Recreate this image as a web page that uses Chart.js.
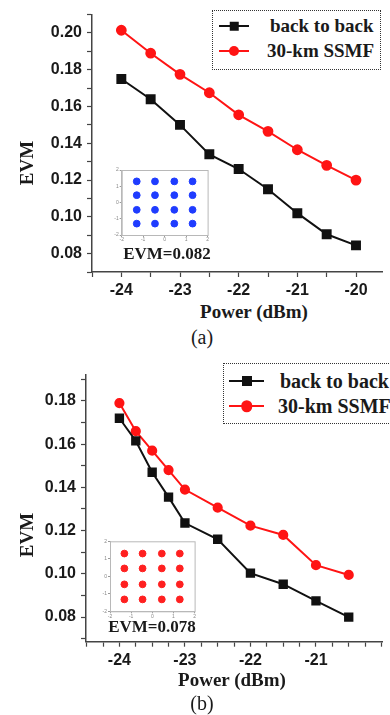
<!DOCTYPE html>
<html lang="en">
<head>
  <meta charset="UTF-8">
  <title>EVM vs Power</title>
  <script src="https://cdn.jsdelivr.net/npm/chart.js"></script>
  <style>
    * { box-sizing: border-box; }
    body {
      margin: 0;
      width: 390px;
      height: 715px;
      overflow: hidden;
      background: #fff;
      position: relative;
      font-family: 'Liberation Serif', 'Times New Roman', serif;
    }
    canvas { position: absolute; }
    .txt {
      position: absolute;
      white-space: nowrap;
      transform: translate(-50%, -50%);
      color: #1a1a1a;
    }
    .bold { font-weight: bold; font-size: 19px; }
    .evm { transform: translate(-50%, -50%) rotate(-90deg); }
    .panel { font-size: 20px; }
    .inset-lbl { font-weight: bold; font-size: 17px; }
    .legend {
      position: absolute;
      border: 1px dotted #333;
      background: #fff;
    }
    .legend .row {
      position: absolute;
      left: 0;
      height: 0;
    }
    .legend .line {
      position: absolute;
      height: 2px;
      top: -1px;
    }
    .legend .mk {
      position: absolute;
      transform: translate(-50%, -50%);
    }
    .legend .lab {
      position: absolute;
      transform: translateY(-50%);
      font-weight: bold;
      font-size: 19px;
      white-space: nowrap;
      color: #1a1a1a;
    }
    #legB .lab { font-size: 20px; }
  </style>
</head>
<body>
  <canvas id="chartA" width="390" height="300" style="left:0;top:0"></canvas>
  <canvas id="insetA" width="102" height="80" style="left:110px;top:165px;background:#fff"></canvas>
  <canvas id="chartB" width="390" height="310" style="left:0;top:360px"></canvas>
  <canvas id="insetB" width="101" height="84" style="left:98px;top:536px;background:#fff"></canvas>

  <div class="txt bold evm" style="left:27px;top:163px">EVM</div>
  <div class="txt bold" style="left:254px;top:312px">Power (dBm)</div>
  <div class="txt panel" style="left:202px;top:337px">(a)</div>
  <div class="txt inset-lbl" style="left:167px;top:254px">EVM=0.082</div>

  <div class="txt bold evm" style="left:27px;top:535px">EVM</div>
  <div class="txt bold" style="left:232px;top:680px">Power (dBm)</div>
  <div class="txt panel" style="left:202px;top:703px">(b)</div>
  <div class="txt inset-lbl" style="left:152px;top:627px">EVM=0.078</div>

  <div class="legend" id="legA" style="left:212px;top:10px;width:169px;height:60px"></div>
  <div class="legend" id="legB" style="left:223px;top:363px;width:180px;height:61px"></div>

<script>
// ---- data ----
const seriesNames = ['back to back', '30-km SSMF'];

// (a)
const powerA = [-24, -23.5, -23, -22.5, -22, -21.5, -21, -20.5, -20];
const b2bA   = [0.175, 0.164, 0.150, 0.134, 0.126, 0.115, 0.102, 0.0905, 0.0845];
const ssmfA  = [0.2015, 0.189, 0.1775, 0.1675, 0.1555, 0.1465, 0.1365, 0.128, 0.120];

// (b)
const powerB = [-24, -23.75, -23.5, -23.25, -23, -22.5, -22, -21.5, -21, -20.5];
const b2bB   = [0.172, 0.1615, 0.147, 0.1355, 0.1235, 0.116, 0.1003, 0.0952, 0.0875, 0.080];
const ssmfB  = [0.179, 0.166, 0.157, 0.148, 0.139, 0.1306, 0.1223, 0.118, 0.104, 0.0995];

// constellation insets (16-QAM levels, I and Q)
const levelsA = [-1.3, -0.45, 0.45, 1.3];
const levelsB = [-1.32, -0.46, 0.45, 1.3];
const insetTicks = [-2, -1, 0, 1, 2];

const BLACK = '#111111';
const RED = '#ff1414';
const AXIS = '#444444';

function pts(xs, ys) {
  return xs.map((x, i) => ({ x: x, y: ys[i] }));
}

function mainChart(id, xs, s1, s2, cfg) {
  const ctx = document.getElementById(id).getContext('2d');
  return new Chart(ctx, {
    type: 'line',
    data: {
      datasets: [
        {
          label: seriesNames[0],
          data: pts(xs, s1),
          borderColor: BLACK,
          backgroundColor: BLACK,
          borderWidth: 2,
          pointStyle: 'rect',
          pointRadius: cfg.rect,
          pointHoverRadius: cfg.rect,
          tension: 0
        },
        {
          label: seriesNames[1],
          data: pts(xs, s2),
          borderColor: RED,
          backgroundColor: RED,
          borderWidth: 2,
          pointStyle: 'circle',
          pointRadius: cfg.circ,
          pointHoverRadius: cfg.circ,
          tension: 0
        }
      ]
    },
    options: {
      responsive: false,
      animation: false,
      layout: { padding: { top: cfg.top, right: 0, bottom: 0, left: 0 } },
      plugins: { legend: { display: false }, tooltip: { enabled: false } },
      scales: {
        x: {
          type: 'linear',
          min: cfg.xmin,
          max: cfg.xmax,
          afterFit: s => { s.height = cfg.xh; },
          border: { color: AXIS, width: 1.5 },
          grid: { drawOnChartArea: false, tickLength: 5, tickColor: AXIS, tickWidth: 1.2 },
          ticks: {
            stepSize: cfg.xstep,
            includeBounds: false,
            autoSkip: false,
            maxRotation: 0,
            padding: 4,
            color: '#1a1a1a',
            font: { family: "'Liberation Sans', Arial, sans-serif", size: 16, weight: 'bold' },
            callback: v => (Number.isInteger(v) && cfg.xshow.includes(v)) ? String(v) : ''
          }
        },
        y: {
          min: cfg.ymin,
          max: cfg.ymax,
          afterFit: s => { s.width = cfg.yw; },
          border: { color: AXIS, width: 1.5 },
          grid: { drawOnChartArea: false, tickLength: 5, tickColor: AXIS, tickWidth: 1.2 },
          ticks: {
            stepSize: 0.01,
            includeBounds: false,
            autoSkip: false,
            padding: 5,
            color: '#1a1a1a',
            font: { family: "'Liberation Sans', Arial, sans-serif", size: 16, weight: 'bold' },
            callback: v => (Math.round(v * 100) % 2 === 0) ? v.toFixed(2) : ''
          }
        }
      }
    }
  });
}

const frame = {
  id: 'frame',
  afterDraw(chart) {
    const a = chart.chartArea;
    const c = chart.ctx;
    c.save();
    c.strokeStyle = '#b8b8b8';
    c.lineWidth = 1;
    c.strokeRect(a.left + 0.5, a.top + 0.5, a.right - a.left, a.bottom - a.top);
    c.restore();
  }
};

function insetChart(id, levels, color, cfg) {
  const data = [];
  levels.forEach(q => levels.forEach(i => data.push({ x: i, y: q })));
  const tickFont = { family: "'Liberation Sans', Arial, sans-serif", size: 5 };
  return new Chart(document.getElementById(id).getContext('2d'), {
    type: 'scatter',
    data: {
      datasets: [{
        data: data,
        backgroundColor: color,
        borderColor: color,
        pointRadius: 3.4,
        pointHoverRadius: 3.4
      }]
    },
    options: {
      responsive: false,
      animation: false,
      layout: { padding: { top: cfg.top, right: cfg.right, left: 0, bottom: 0 } },
      plugins: { legend: { display: false }, tooltip: { enabled: false } },
      scales: {
        x: {
          min: -2, max: 2,
          afterFit: s => { s.height = cfg.xh; },
          border: { color: '#b8b8b8' },
          grid: { drawOnChartArea: false, tickLength: 2, tickColor: '#999' },
          ticks: { stepSize: 1, autoSkip: false, padding: 0, color: '#888', font: tickFont,
                   callback: v => insetTicks.includes(v) ? String(v) : '' }
        },
        y: {
          min: -2, max: 2,
          afterFit: s => { s.width = cfg.yw; },
          border: { color: '#b8b8b8' },
          grid: { drawOnChartArea: false, tickLength: 2, tickColor: '#999' },
          ticks: { stepSize: 1, autoSkip: false, padding: 1, color: '#888', font: tickFont,
                   callback: v => insetTicks.includes(v) ? String(v) : '' }
        }
      }
    },
    plugins: [frame]
  });
}

mainChart('chartA', powerA, b2bA, ssmfA, {
  top: 11, xh: 28, yw: 92,
  xmin: -24.5, xmax: -19.55, xstep: 0.5, xshow: [-24, -23, -22, -21, -20],
  ymin: 0.07, ymax: 0.21, rect: 5.6, circ: 4.4
});

mainChart('chartB', powerB, b2bB, ssmfB, {
  top: 15, xh: 28.3, yw: 86,
  xmin: -24.51, xmax: -19.98, xstep: 0.25, xshow: [-24, -23, -22, -21],
  ymin: 0.0686, ymax: 0.192, rect: 5.2, circ: 4.1
});

insetChart('insetA', levelsA, '#1f3cff', { top: 5, right: 3, xh: 10, yw: 11.7 });
insetChart('insetB', levelsB, '#ff2020', { top: 5.3, right: 4, xh: 8.7, yw: 12 });

// legends (HTML, dotted box like the figure)
function legend(id, rows, geo) {
  const box = document.getElementById(id);
  const styles = [
    { color: BLACK, shape: 'square', size: geo.sq },
    { color: RED, shape: 'circle', size: geo.ci }
  ];
  rows.forEach((y, k) => {
    const st = styles[k];
    const row = document.createElement('div');
    row.className = 'row';
    row.style.top = y + 'px';
    const line = document.createElement('div');
    line.className = 'line';
    line.style.left = geo.l0 + 'px';
    line.style.width = (geo.l1 - geo.l0) + 'px';
    line.style.background = st.color;
    const mk = document.createElement('div');
    mk.className = 'mk';
    mk.style.left = ((geo.l0 + geo.l1) / 2) + 'px';
    mk.style.width = st.size + 'px';
    mk.style.height = st.size + 'px';
    mk.style.background = st.color;
    if (st.shape === 'circle') mk.style.borderRadius = '50%';
    const lab = document.createElement('div');
    lab.className = 'lab';
    lab.style.left = geo.tx[k] + 'px';
    lab.textContent = seriesNames[k];
    row.appendChild(line);
    row.appendChild(mk);
    row.appendChild(lab);
    box.appendChild(row);
  });
}

legend('legA', [15, 40], { l0: 6, l1: 36, sq: 8.5, ci: 10, tx: [57, 54] });
legend('legB', [17, 42], { l0: 5, l1: 40, sq: 10, ci: 11.5, tx: [56, 54] });
</script>
</body>
</html>
